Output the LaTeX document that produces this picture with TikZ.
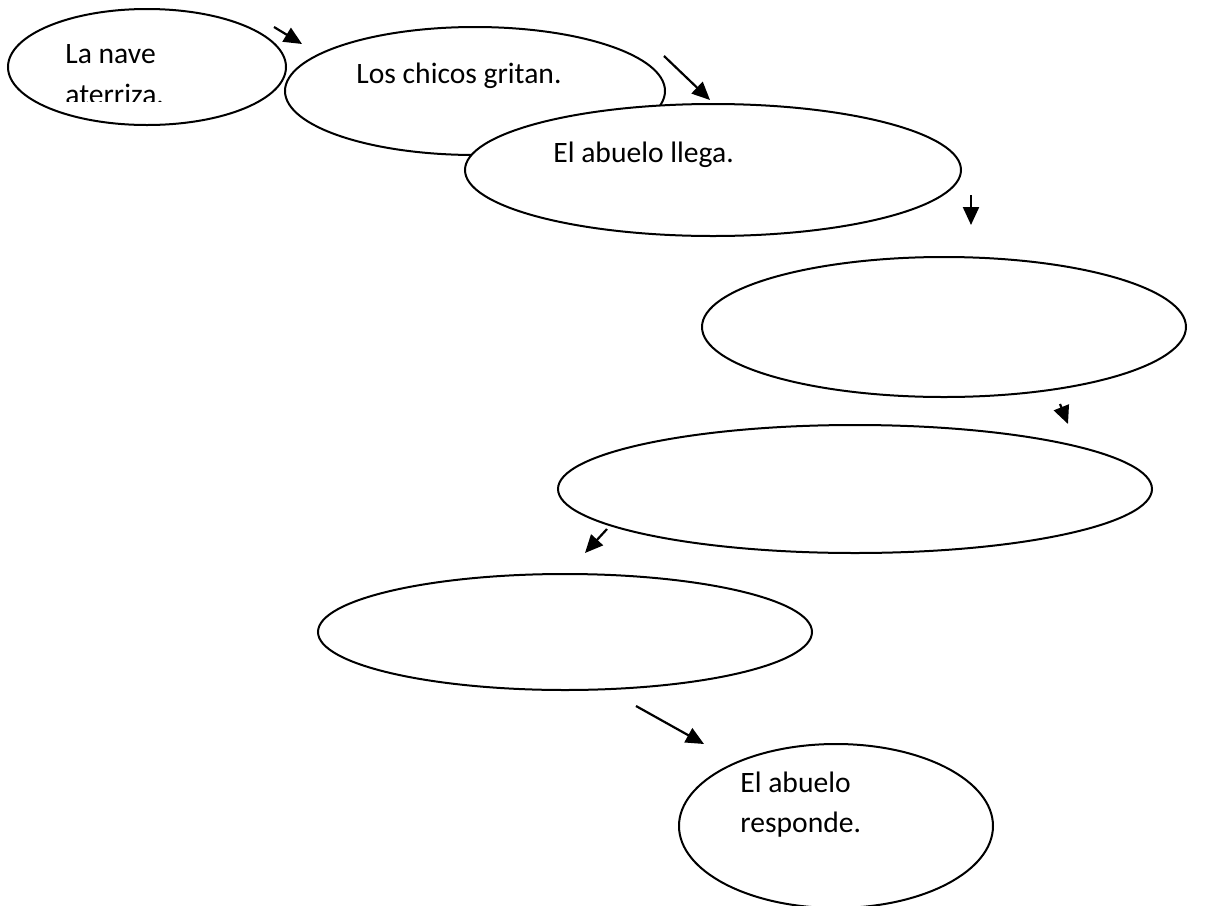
\documentclass[tikz,border=0pt]{standalone}
\usepackage{fontspec}
\setmainfont{Carlito}
\usetikzlibrary{shapes.geometric, arrows.meta}
\tikzset{
  globo/.style={ellipse, draw, fill=white, line width=1pt, inner sep=0pt, outer sep=0pt},
  flecha/.style={line width=1.1pt, -{Triangle[length=9pt, width=8pt]}},
  texto/.style={anchor=base west, inner sep=0pt, font=\fontsize{14.8}{17}\selectfont}
}

\begin{document}
\begin{tikzpicture}[x=0.5pt,y=0.5pt,yscale=-1,xscale=1]
    \clip (0,0) rectangle (1212,906);
    \fill[white] (0,0) rectangle (1212,906);

    %Shape: Ellipse [nave]
    \node (nave) [globo, minimum width=139pt, minimum height=58pt] at (147,67) {};
    %Shape: Ellipse [chicos]
    \node (chicos) [globo, minimum width=190pt, minimum height=64pt] at (475,91) {};
    % Text Node
    \node (tchicos) [texto] at (356,83) {Los chicos gritan.};
    %Shape: Ellipse [llega]
    \node (llega) [globo, minimum width=248pt, minimum height=66pt] at (713,170) {};
    %Shape: Ellipse [vacio1]
    \node (vacio1) [globo, minimum width=242pt, minimum height=70pt] at (944,327) {};
    %Shape: Ellipse [vacio2]
    \node (vacio2) [globo, minimum width=297pt, minimum height=64pt] at (855,489) {};
    %Shape: Ellipse [vacio3]
    \node (vacio3) [globo, minimum width=247pt, minimum height=58pt] at (565,632) {};
    %Shape: Ellipse [responde]
    \node (responde) [globo, minimum width=157pt, minimum height=82pt] at (836,826) {};

    % Text Node
    \node (tnave) [texto] at (65,63) {La nave};
    \begin{scope}
      \clip (0,0) rectangle (300,101);
      % Text Node
      \node (taterriza) [texto] at (65,104) {aterriza.};
    \end{scope}
    % Text Node
    \node (tllega) [texto] at (553,162) {El abuelo llega.};
    % Text Node
    \node (tabuelo) [texto] at (740,792) {El abuelo};
    % Text Node
    \node (tresponde) [texto] at (740,832) {responde.};

    %Arrows
    \coordinate (a1) at (274,27);   \coordinate (b1) at (302,44);
    \coordinate (a2) at (664,56);   \coordinate (b2) at (710,100);
    \coordinate (a3) at (971,195);  \coordinate (b3) at (971,225);
    \coordinate (a4) at (1060,404); \coordinate (b4) at (1068,424);
    \coordinate (a5) at (607,529);  \coordinate (b5) at (585,553);
    \coordinate (a6) at (636,706);  \coordinate (b6) at (704,744);
    \draw [flecha] (a1) -- (b1);
    \draw [flecha] (a2) -- (b2);
    \draw [flecha] (a3) -- (b3);
    \draw [flecha] (a4) -- (b4);
    \draw [flecha] (a5) -- (b5);
    \draw [flecha] (a6) -- (b6);

\end{tikzpicture}
\end{document}
